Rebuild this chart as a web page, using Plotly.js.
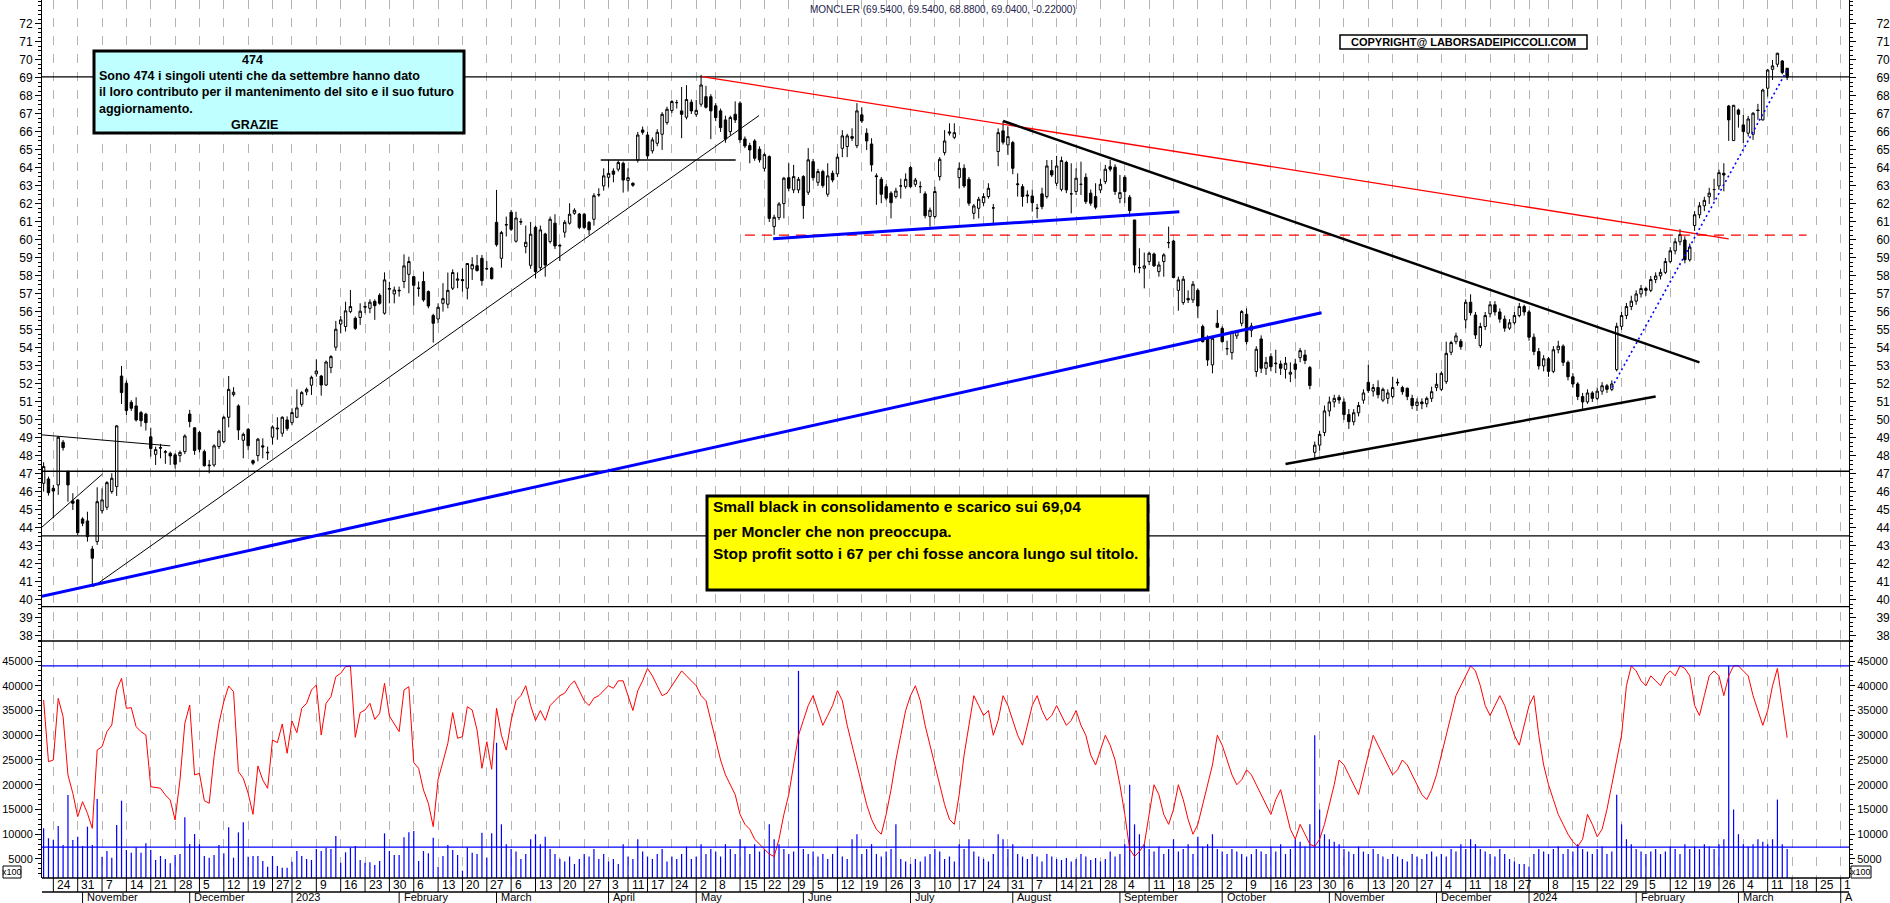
<!DOCTYPE html>
<html><head><meta charset="utf-8">
<script src="https://cdn.plot.ly/plotly-3.0.1.min.js"></script>
<style>html,body{margin:0;padding:0;background:#fff;overflow:hidden}#chart{width:1890px;height:903px}</style>
</head><body><div id="chart"></div>
<script>
// ---- DATA (bar index 0 = 20 Oct 2022, trading days, last bar = 15 Mar 2024) ----
const openV = [
46.48,46.72,46.20,46.39,48.76,47.13,45.50,45.56,44.50,44.39,
42.83,43.24,44.96,45.15,46.02,46.30,52.44,52.04,50.98,50.78,
50.41,50.32,49.06,48.09,48.43,48.20,48.15,48.06,48.02,48.24,
50.33,49.56,49.30,48.24,47.50,47.50,48.52,48.80,50.15,51.41,
50.78,48.87,49.48,47.74,48.02,48.56,48.17,49.04,49.50,49.26,
50.00,49.85,50.15,50.87,51.56,51.93,52.56,52.44,51.94,52.91,
54.04,55.33,55.19,56.02,55.65,55.69,56.26,56.20,56.59,56.93,
55.93,57.26,57.00,57.17,57.69,58.09,57.96,57.32,57.69,57.13,
55.80,55.61,56.48,56.43,57.32,57.76,57.80,57.32,58.39,58.57,
58.98,58.41,58.43,60.98,58.98,60.83,61.54,59.93,61.02,59.63,
58.59,60.70,58.46,60.33,59.91,60.93,59.70,60.43,60.93,61.48,
61.44,61.43,60.98,61.15,62.50,63.00,63.48,63.83,63.93,64.26,
63.30,63.15,64.44,66.11,65.83,64.95,65.37,65.87,66.52,67.19,
67.63,67.17,66.82,67.65,66.98,67.54,67.96,67.96,67.45,67.17,
66.67,66.02,66.98,67.60,65.61,65.24,65.50,65.04,63.98,64.63,
60.74,61.24,62.02,63.46,62.78,62.78,63.52,62.65,64.35,63.20,
63.80,62.54,63.70,63.67,65.09,65.19,65.74,65.24,66.95,65.93,
65.33,63.56,63.37,62.96,62.60,62.41,63.00,62.96,64.02,63.09,
62.96,62.56,61.30,61.30,63.52,64.85,65.93,65.70,63.46,63.98,
63.37,61.48,61.76,62.07,62.41,61.78,64.91,66.06,65.28,65.41,
63.07,62.96,62.50,62.44,61.76,62.56,62.41,63.85,63.15,62.81,
64.31,62.56,62.69,63.09,63.48,62.60,62.41,62.78,63.24,64.07,
64.04,62.31,63.48,62.37,61.11,58.46,58.43,58.80,59.22,58.24,
58.80,59.85,59.94,57.20,56.52,56.75,56.67,57.20,55.19,54.57,
53.06,55.37,55.09,53.96,53.74,54.67,55.37,55.87,54.98,52.69,
54.50,52.87,53.52,53.12,53.11,52.81,52.54,53.11,53.46,53.61,
52.91,48.20,48.60,49.30,50.50,51.00,51.26,51.00,50.30,49.90,
50.40,51.10,52.09,51.60,51.80,51.10,51.20,51.30,52.05,51.80,
51.76,51.20,50.80,51.00,50.90,51.20,51.80,51.70,52.13,53.76,
54.35,54.37,55.56,56.54,55.83,54.13,55.19,55.90,56.40,56.00,
55.60,55.10,55.40,55.80,56.30,56.00,54.60,53.80,53.00,53.40,
52.70,53.90,54.10,53.20,52.40,52.00,51.30,51.00,51.50,51.20,
51.60,51.90,51.70,52.80,55.20,55.80,56.30,56.60,57.00,57.30,
57.20,57.80,58.00,58.20,58.80,59.40,59.90,60.00,58.90,60.80,
61.40,61.90,62.40,62.80,63.00,63.70,67.44,65.52,67.22,66.39,
65.93,65.87,67.22,66.67,68.43,69.48,69.76,69.94,69.54];
const highV = [
47.65,46.85,46.39,49.11,48.89,47.20,45.93,45.60,44.60,44.90,
43.00,46.26,46.20,46.60,47.04,49.72,53.00,52.20,51.10,51.26,
50.50,50.40,49.57,48.52,48.67,48.33,48.24,48.15,48.30,49.20,
50.56,49.60,49.40,48.35,47.78,48.65,49.45,50.22,52.44,51.82,
50.87,49.30,49.55,47.80,49.00,48.98,48.52,49.70,50.15,50.20,
50.20,50.65,51.70,51.60,51.80,52.46,53.37,52.50,53.30,53.60,
55.50,55.78,56.57,57.22,55.75,56.48,56.57,56.70,56.70,57.04,
58.20,57.67,57.41,57.41,59.20,59.07,58.00,57.69,58.24,57.20,
55.90,56.48,57.60,58.19,58.37,58.20,58.43,58.70,59.04,59.17,
59.17,58.83,58.50,62.78,60.50,61.30,61.67,61.57,61.20,60.80,
61.00,60.80,60.80,60.40,61.30,61.43,59.80,61.10,62.04,61.76,
61.50,61.50,61.05,62.60,62.87,63.98,64.45,63.98,64.41,64.35,
63.98,63.20,66.00,66.30,66.00,65.70,66.15,67.10,67.40,67.78,
67.78,68.50,68.60,67.80,67.78,69.17,68.56,68.10,67.60,67.30,
66.90,66.90,67.70,67.70,65.75,65.40,65.60,65.20,64.85,64.70,
61.40,62.10,63.50,64.26,64.17,63.50,63.60,65.10,64.50,63.95,
63.90,64.26,63.85,64.80,66.10,65.90,66.20,67.60,67.37,66.20,
65.65,63.70,63.50,63.10,62.70,62.90,63.40,63.70,64.10,63.45,
63.25,62.70,61.80,62.96,64.60,66.10,66.48,66.48,64.30,64.20,
63.50,62.00,62.40,62.60,63.15,62.00,66.20,66.60,66.30,65.50,
63.70,63.10,62.75,62.80,62.00,62.90,64.44,64.44,64.67,64.63,
64.40,64.26,63.98,64.35,63.70,62.80,63.15,63.40,64.17,64.44,
64.20,63.61,63.60,62.50,61.11,59.54,59.30,59.35,59.30,58.80,
59.26,60.74,60.00,57.96,58.00,57.20,57.72,57.30,55.30,54.70,
54.60,56.11,55.20,54.40,54.96,55.00,56.10,56.20,55.40,54.10,
54.70,53.50,53.70,53.90,53.30,53.50,53.20,53.40,54.00,53.90,
53.00,48.80,49.40,50.80,51.30,51.40,51.40,51.20,50.60,50.60,
51.00,51.70,53.06,52.00,52.20,51.80,51.70,52.40,52.30,51.90,
51.80,51.40,51.20,51.20,51.30,51.85,52.60,52.70,54.35,54.40,
54.85,54.50,56.70,56.98,56.00,55.40,56.00,56.60,56.60,56.20,
55.80,55.60,56.00,56.50,56.40,56.10,54.80,54.00,53.60,53.50,
54.10,54.40,54.20,53.30,52.60,52.10,51.50,51.70,51.60,51.80,
52.10,52.00,52.20,55.40,56.00,56.50,56.90,57.20,57.50,57.40,
58.00,58.20,58.40,59.00,59.60,60.10,60.60,60.20,59.80,61.60,
62.10,62.40,62.90,63.40,63.90,64.26,67.50,67.50,67.30,66.94,
66.89,67.10,67.56,68.40,69.50,70.00,70.40,70.00,69.54];
const lowV = [
46.02,45.80,44.54,45.84,48.30,45.46,45.00,43.60,44.10,43.24,
40.74,43.06,44.80,45.00,45.90,45.78,50.89,50.28,50.50,49.91,
49.63,49.41,47.96,47.50,47.87,47.56,47.50,47.30,47.65,48.10,
49.59,48.06,48.20,47.41,47.04,47.40,48.39,48.70,49.59,51.30,
48.89,47.87,48.33,47.50,47.70,47.87,47.78,48.63,48.90,49.07,
49.40,49.70,50.10,50.74,51.37,51.39,52.40,51.35,51.89,52.60,
53.85,54.81,54.91,55.93,55.00,55.28,55.93,55.93,55.56,56.40,
55.85,56.48,56.48,56.85,57.32,57.04,56.35,56.85,56.57,56.20,
54.30,55.37,56.02,56.20,57.22,57.32,57.13,56.70,57.78,58.24,
57.46,58.33,57.80,59.63,58.46,60.19,60.50,59.85,60.83,59.26,
58.40,57.87,58.30,57.96,59.80,59.50,58.83,60.13,60.85,61.40,
60.60,60.60,60.28,60.80,62.40,62.74,62.93,63.20,63.80,62.63,
62.69,62.95,64.30,65.85,64.50,64.80,65.20,65.00,66.40,67.05,
67.30,65.65,66.70,67.00,66.85,67.40,67.30,65.60,66.60,66.00,
65.40,65.80,66.50,65.37,65.10,64.26,64.40,64.30,63.80,61.00,
60.28,61.10,61.20,62.70,62.60,62.60,61.17,62.50,63.30,63.00,
62.90,62.40,63.20,63.50,64.60,64.60,65.50,65.10,66.50,65.00,
63.80,61.95,62.04,62.20,61.20,62.30,62.30,62.85,62.90,62.95,
62.60,61.20,60.74,61.20,63.30,64.70,65.80,65.60,62.87,62.90,
61.90,61.15,61.20,61.90,62.30,60.83,64.10,65.30,64.72,63.65,
62.41,61.85,62.04,61.57,61.20,61.70,62.30,63.50,63.00,62.70,
62.60,61.48,62.50,62.50,62.00,61.90,61.70,62.60,63.10,63.80,
62.50,62.04,62.04,61.30,58.19,58.15,57.31,58.60,58.50,57.96,
57.96,59.54,57.90,56.07,56.40,56.50,56.50,55.65,54.30,53.00,
52.59,55.10,54.30,53.60,53.35,54.50,55.20,54.20,54.60,52.40,
52.60,52.50,52.70,52.60,52.50,52.30,52.10,52.30,53.20,53.10,
51.70,47.90,48.30,49.10,50.20,50.70,50.90,50.00,49.50,49.70,
50.20,50.90,51.50,51.30,51.20,51.00,50.90,51.20,51.90,51.40,
51.10,50.60,50.50,50.60,50.70,51.00,51.60,51.60,52.00,53.60,
54.20,53.90,55.09,55.80,54.50,54.00,55.00,55.70,55.80,55.40,
54.90,55.00,55.30,55.70,55.80,54.40,53.60,52.80,52.70,52.40,
52.60,53.70,53.00,52.20,51.80,51.10,50.60,50.90,51.00,51.10,
51.40,51.50,51.60,52.70,55.00,55.60,56.10,56.40,56.80,56.90,
57.10,57.60,57.80,58.10,58.70,59.20,59.70,58.70,58.80,60.50,
61.20,61.60,62.00,62.20,62.78,62.70,65.50,65.50,66.24,65.37,
65.74,65.56,66.67,66.63,67.96,68.89,69.60,69.20,68.88];
const closeV = [
47.41,45.96,46.05,49.04,48.46,46.39,45.37,43.74,44.26,43.52,
42.32,45.46,45.56,46.52,46.76,49.67,51.52,50.52,50.65,50.00,
49.96,49.85,48.41,48.35,48.46,48.24,48.00,47.54,48.20,49.11,
49.91,48.30,48.37,47.46,47.46,48.56,49.37,50.15,51.70,51.54,
49.44,49.20,48.57,47.60,48.93,48.50,48.20,49.61,49.54,50.15,
49.52,50.41,50.67,51.52,51.70,52.37,52.72,51.94,53.22,53.52,
55.04,55.56,56.06,56.30,55.09,56.04,56.30,56.54,56.35,56.48,
57.78,57.30,57.22,57.20,58.56,58.80,57.48,57.32,56.67,56.33,
55.37,56.26,56.74,57.20,58.19,57.83,57.74,58.69,58.63,58.30,
57.74,58.40,57.85,59.74,60.41,60.85,60.59,61.22,61.00,59.87,
60.32,58.24,60.56,58.61,61.15,59.67,59.67,60.98,61.43,61.65,
60.70,60.69,60.56,62.46,62.52,63.56,63.70,63.65,64.30,63.33,
63.46,63.04,65.83,65.98,64.67,65.56,65.98,66.98,67.26,67.69,
67.63,66.98,67.80,67.17,67.20,68.61,67.37,67.17,66.80,66.24,
65.60,66.80,66.67,65.56,65.22,65.00,64.54,64.45,64.74,61.20,
61.26,62.00,63.43,62.87,63.52,63.37,61.91,64.45,63.46,63.80,
63.02,63.56,63.33,64.60,65.78,65.78,65.65,67.17,66.61,65.50,
64.17,63.52,62.54,62.32,62.07,62.72,63.00,63.37,62.96,63.33,
62.96,61.35,61.65,62.69,64.48,65.50,66.00,65.96,63.98,63.00,
62.04,61.89,62.26,62.41,62.87,61.78,65.96,65.43,65.74,63.98,
63.11,62.41,62.45,62.07,61.76,61.85,64.11,63.61,64.11,64.41,
62.78,62.56,63.43,63.09,62.13,62.04,61.82,63.09,63.93,63.93,
62.69,62.63,62.69,61.63,58.61,58.46,58.56,59.26,58.56,58.61,
59.17,59.85,57.91,57.78,57.82,56.67,57.54,56.33,54.35,53.33,
54.54,55.15,54.35,53.96,54.90,54.91,56.02,54.35,55.22,53.93,
52.87,53.20,52.96,53.15,52.87,53.15,52.65,52.81,53.85,53.30,
51.91,48.60,49.20,50.50,51.00,51.20,51.11,50.30,49.90,50.40,
50.80,51.50,51.63,51.80,51.40,51.70,51.50,51.80,52.09,51.57,
51.30,50.80,51.00,50.90,51.20,51.57,51.98,52.59,53.70,54.30,
54.67,54.07,56.54,55.96,54.72,55.19,55.80,56.40,56.00,55.60,
55.10,55.40,55.80,56.30,56.00,54.60,53.80,53.00,53.40,52.70,
53.90,54.10,53.20,52.40,52.00,51.30,51.00,51.50,51.20,51.60,
51.90,51.70,52.00,55.20,55.80,56.30,56.60,57.00,57.30,57.20,
57.80,58.00,58.20,58.80,59.40,59.90,60.30,58.90,59.60,61.40,
61.90,62.20,62.60,62.80,63.74,63.61,66.67,67.48,66.98,66.02,
66.72,67.04,67.19,68.33,69.44,69.67,70.37,69.30,69.04];
const volumeV = [
11200,9180,8840,11670,7830,17930,8840,9500,7630,11530,
7830,17120,5470,6620,5270,11870,16780,6820,6280,7360,
6280,8170,6820,4800,5610,5000,4130,5810,6010,13420,
8030,10050,7970,5610,5270,5810,7830,6150,11400,5270,
10380,12400,5470,5610,5610,4600,3450,5610,3590,3250,
3250,4460,6620,5610,5000,4800,7020,6620,7290,7020,
9650,4260,6350,7290,7630,4800,4260,4330,3790,4600,
10180,6620,5810,5810,9380,10380,10660,4600,6620,6150,
9310,3450,5610,7830,6820,5810,2640,7360,6280,6010,
10310,5270,10180,28480,12000,8000,7000,6500,5000,6000,
9000,10000,8000,9500,7000,6000,5000,4500,5500,4000,
5000,6000,5500,7000,5000,6000,4500,5000,4000,8000,
5500,5000,9000,6500,5500,5000,6000,7000,4500,5500,
5000,6000,7500,5000,5500,8000,6000,7000,6500,5500,
8000,7000,6000,9000,7500,6000,8000,6500,7000,12000,
9000,8000,7000,6000,6500,43000,7000,6000,6500,5500,
6000,5000,6000,7500,5500,5000,9000,10000,6000,7000,
8000,6000,5500,6500,7000,12000,5000,4500,4000,5000,
4500,5500,6000,7000,6500,5000,5500,4500,8000,7000,
9000,6500,5500,5000,4500,6000,10000,9000,7000,8000,
6000,5500,5000,6000,5500,4500,6000,5500,5000,4800,
5200,4500,5000,6000,5500,4800,5200,4500,5000,6500,
5500,6000,8000,20000,12000,10000,8000,7000,6500,7500,
6000,7000,9000,6500,7000,8000,6000,9500,7500,8000,
10000,7000,6500,6000,7000,6500,6000,5500,6000,7000,
6500,6000,7500,6500,8000,6000,7000,9000,8500,7500,
12000,30000,15000,10000,9000,8500,8000,7000,6500,6000,
7500,6500,6000,7000,6000,5500,5000,6000,5500,5000,
4500,6000,5500,5000,6000,6500,5500,6000,5500,7000,
6500,8000,7000,9000,8000,7000,6500,6000,5500,7000,
6000,5000,4500,4000,4000,3500,6000,7000,6500,6000,
7000,7500,6000,7000,6500,8000,7000,6500,6000,7000,
7500,6000,6500,18000,12000,9000,8000,7000,6500,6000,
6500,7000,6000,6500,7500,7000,6000,8000,7000,7500,
7000,8000,7500,7000,8000,9000,44000,15000,10000,8000,
7500,8000,9000,8500,8000,9000,17000,8000,7000];
const oscV = [
37120,24660,25000,37460,33750,21970,18270,13550,16580,14220,
11200,27020,27690,30720,32070,39140,41500,35440,35570,31730,
30720,30050,19610,19480,19280,17930,16920,12880,20960,32410,
36110,21970,22310,16780,16250,25670,32410,36780,39950,38800,
22640,21300,18270,14020,23790,20960,19280,29040,28500,32270,
26350,32880,30520,35440,36450,39140,40150,30050,36450,37790,
41830,42510,43860,43990,29580,34560,35100,36450,33210,34430,
40490,33890,32410,30720,39140,39810,24460,23320,18940,16250,
11530,21090,24660,28370,34560,29380,29710,35770,35100,31060,
23320,28700,23120,35440,30000,27000,33000,37000,38000,40000,
36000,33000,35000,33000,36000,37000,38000,38500,40000,41000,
39000,37000,36000,37500,38000,39000,40000,39500,41000,41000,
38000,35000,39000,41000,43500,42000,40000,38000,38500,40000,
41500,43000,42000,41000,40000,38000,37000,33000,29000,25000,
22000,20000,18000,14000,12000,11000,9000,8000,7000,6000,
5500,9000,14000,18000,24000,30000,33000,36000,38000,35000,
32000,34000,36000,39000,37000,32000,28000,24000,20000,16000,
13000,11000,10000,14000,19000,25000,30000,35000,38000,40000,
37000,32000,28000,24000,20000,16000,13000,12000,18000,26000,
32000,38000,36000,34000,35000,30000,33000,38000,36000,33000,
30000,28000,32000,36000,38000,35000,33000,34000,36000,34000,
32000,33000,35000,32000,30000,26000,24000,27000,30000,28000,
25000,20000,14000,7000,5500,6500,8000,14000,20000,18000,
14000,12000,15000,20000,17000,13000,10000,12000,16000,20000,
24000,30000,28000,25000,22000,20000,21000,23000,22000,20000,
18000,16000,14000,17000,19000,15000,11000,9000,12000,10000,
8000,7500,9000,12000,16000,20000,25000,24000,22000,20000,
18000,22000,26000,30000,28000,26000,24000,22000,23000,25000,
24000,22000,20000,18000,17000,19000,22000,26000,30000,34000,
38000,40000,42000,44000,43000,40000,36000,34000,36000,38000,
36000,33000,30000,28000,32000,36000,38000,30000,24000,20000,
17000,14000,12000,10000,8500,7500,9000,14000,12000,9500,
11000,15000,20000,25000,30000,40000,44000,43000,41000,40000,
42000,41000,40000,42000,43000,42000,44000,43500,42000,36000,
34000,38000,42000,43000,42000,38000,42000,44000,44000,43000,
42000,38000,35000,32000,35000,40000,43500,36000,29500];

// axis ticks (bar index of first trading day of each week / month)
const weekTickIdx = [2,7,12,17,22,27,32,37,42,47,51,56,61,66,71,76,81,86,91,96,
101,106,111,116,120,124,129,134,138,143,148,153,158,163,168,173,178,183,188,193,
198,203,208,212,217,222,227,232,237,242,247,252,257,262,267,272,277,282,287,292,
297,302,305,309,314,319,324,329,334,339,344,349,354,359,364,369];
const weekTickLabels = ['24','31','7','14','21','28','5','12','19','27','2','9','16','23','30','6','13','20','27','6',
'13','20','27','3','11','17','24','2','8','15','22','29','5','12','19','26','3','10','17','24',
'31','7','14','21','28','4','11','18','25','2','9','16','23','30','6','13','20','27','4','11',
'18','27','','8','15','22','29','5','12','19','26','4','11','18','25','1'];
const monthIdx = [8,30,51,73,93,116,134,156,178,199,221,242,264,286,305,327,348,369];
const monthLabels = ['November','December','2023','February','March','April','May','June','July','August','September','October','November','December','2024','February','March','A'];
const priceTicks = [38,39,40,41,42,43,44,45,46,47,48,49,50,51,52,53,54,55,56,57,58,59,60,61,62,63,64,65,66,67,68,69,70,71,72];
const volTicks = [5000,10000,15000,20000,25000,30000,35000,40000,45000];
const volTickText = ['5000','10000','15000','20000','25000','30000','35000','40000','45000'];
const priceLevels = [69.06,47.15,43.56,39.63];
const volLevels = [44000,7400];
const trendLines = [
 {x0:-0.33,y0:44.05,x1:12.1,y1:47.0,color:'#000000',width:1,dash:'solid'},
 {x0:-0.33,y0:49.17,x1:26,y1:48.56,color:'#000000',width:1,dash:'solid'},
 {x0:10.2,y0:40.74,x1:146.9,y1:66.91,color:'#000000',width:1,dash:'solid'},
 {x0:114.4,y0:64.44,x1:142.1,y1:64.44,color:'#000000',width:1.3,dash:'solid'},
 {x0:135.2,y0:69.07,x1:346,y1:60.06,color:'#ff0000',width:1.3,dash:'solid'},
 {x0:144,y0:60.27,x1:362,y1:60.27,color:'#ff0000',width:1.3,dash:'10px,7px'},
 {x0:-0.33,y0:40.2,x1:262.4,y1:55.96,color:'#0000ff',width:3,dash:'solid'},
 {x0:149.8,y0:60.06,x1:233.2,y1:61.56,color:'#0000ff',width:3,dash:'solid'},
 {x0:197,y0:66.61,x1:340,y1:53.2,color:'#000000',width:2.5,dash:'solid'},
 {x0:255,y0:47.55,x1:331,y1:51.3,color:'#000000',width:2.5,dash:'solid'},
 {x0:322,y0:51.8,x1:358,y1:69.44,color:'#0000ff',width:1.6,dash:'2px,3px'}
];

// ---- LAYOUT HELPERS ----
const L = 42, R = 1849, B = 878, SPLIT = 641;
const PX = x => (x - L) / (R - L);
const PY = y => (B - y) / B;
const FONT = 'Liberation Sans, Arial, sans-serif';
const idx = closeV.map((_, i) => i);

const traces = [
 {type:'bar', x: idx, y: volumeV, xaxis:'x', yaxis:'y2', width:0.25,
  marker:{color:'#0000ff', line:{width:0}}, hoverinfo:'skip'},
 {type:'scatter', mode:'lines', x: idx, y: oscV, xaxis:'x', yaxis:'y2',
  line:{color:'#ff0000', width:1}, hoverinfo:'skip'},
 {type:'candlestick', x: idx, open: openV, high: highV, low: lowV, close: closeV,
  xaxis:'x', yaxis:'y', whiskerwidth:0, hoverinfo:'skip',
  increasing:{line:{color:'#000000', width:1}, fillcolor:'#ffffff'},
  decreasing:{line:{color:'#000000', width:1}, fillcolor:'#000000'}},
 {type:'scatter', mode:'markers', x:[idx[0]], y:[closeV[0]], xaxis:'x', yaxis:'y3', marker:{opacity:0}, hoverinfo:'skip'},
 {type:'scatter', mode:'markers', x:[idx[0]], y:[volumeV[0]], xaxis:'x', yaxis:'y4', marker:{opacity:0}, hoverinfo:'skip'}
];

const shapes = [];
priceLevels.forEach(v => shapes.push({type:'line', xref:'paper', yref:'y', x0:0, x1:1, y0:v, y1:v, line:{color:'#000', width:1.3}}));
volLevels.forEach(v => shapes.push({type:'line', xref:'paper', yref:'y2', x0:0, x1:1, y0:v, y1:v, line:{color:'#0000ff', width:1.3}}));
trendLines.forEach(t => shapes.push({type:'line', xref:'x', yref:'y', x0:t.x0, y0:t.y0, x1:t.x1, y1:t.y1, line:{color:t.color, width:t.width, dash:t.dash}}));
shapes.push({type:'line', xref:'paper', yref:'paper', x0:0, x1:1, y0:PY(SPLIT), y1:PY(SPLIT), line:{color:'#000', width:1.3}});
shapes.push({type:'line', xref:'paper', yref:'paper', x0:0, x1:1, y0:0, y1:0, line:{color:'#000', width:1.3}});
shapes.push({type:'line', xref:'paper', yref:'paper', x0:0, x1:1, y0:PY(892), y1:PY(892), line:{color:'#000', width:1.3}});
weekTickIdx.forEach(v => shapes.push({type:'line', xref:'x', yref:'paper', x0:v, x1:v, y0:0, y1:PY(892), line:{color:'#000', width:1}}));
monthIdx.forEach(v => shapes.push({type:'line', xref:'x', yref:'paper', x0:v, x1:v, y0:PY(892), y1:PY(904), line:{color:'#000', width:1}}));
shapes.push({type:'rect', xref:'paper', yref:'paper', x0:PX(94), x1:PX(464), y0:PY(51), y1:PY(133), fillcolor:'#c0ffff', line:{color:'#000', width:3}, layer:'above'});
shapes.push({type:'rect', xref:'paper', yref:'paper', x0:PX(707), x1:PX(1148), y0:PY(496), y1:PY(590), fillcolor:'#ffff00', line:{color:'#000', width:3}, layer:'above'});
shapes.push({type:'rect', xref:'paper', yref:'paper', x0:PX(1340), x1:PX(1587), y0:PY(35), y1:PY(49), fillcolor:'#ffffff', line:{color:'#000', width:1.5}, layer:'above'});
shapes.push({type:'rect', xref:'paper', yref:'paper', x0:PX(3), x1:PX(21), y0:PY(866), y1:PY(878), fillcolor:'#ffffff', line:{color:'#000', width:1}});
shapes.push({type:'rect', xref:'paper', yref:'paper', x0:PX(1851), x1:PX(1871), y0:PY(866), y1:PY(878), fillcolor:'#ffffff', line:{color:'#000', width:1}});

const ann = [];
weekTickIdx.forEach((v, k) => { if (weekTickLabels[k]) ann.push({xref:'x', yref:'paper', x:v + 0.3, y:PY(885), xanchor:'left', yanchor:'middle', text:weekTickLabels[k], showarrow:false, font:{family:FONT, size:12, color:'#000'}}); });
monthIdx.forEach((v, k) => ann.push({xref:'x', yref:'paper', x:v + 0.5, y:PY(896.5), xanchor:'left', yanchor:'middle', text:monthLabels[k], showarrow:false, font:{family:FONT, size:11, color:'#000'}}));
const T = (px, py, text, size, anchor, color, bold) => ann.push({xref:'paper', yref:'paper', x:PX(px), y:PY(py), xanchor:anchor, yanchor:'middle', text: bold ? '<b>' + text + '</b>' : text, showarrow:false, font:{family:FONT, size:size, color:color || '#000'}});
T(943, 9, 'MONCLER (69.5400, 69.5400, 68.8800, 69.0400, -0.22000)', 10, 'center', '#22224a', false);
T(1463, 42, 'COPYRIGHT@ LABORSADEIPICCOLI.COM', 11, 'center', '#000', true);
T(252, 60, '474', 12.5, 'center', '#000', true);
T(97, 76, 'Sono 474 i singoli utenti che da settembre hanno dato', 12.5, 'left', '#000', true);
T(97, 92, 'il loro contributo per il mantenimento del sito e il suo futuro', 12.5, 'left', '#000', true);
T(97, 109, 'aggiornamento.', 12.5, 'left', '#000', true);
T(254, 125, 'GRAZIE', 12.5, 'center', '#000', true);
T(711, 507, 'Small black in consolidamento e scarico sui 69,04', 15.5, 'left', '#000', true);
T(711, 531, 'per Moncler che non preoccupa.', 15.5, 'left', '#000', true);
T(711, 554, 'Stop profit sotto i 67 per chi fosse ancora lungo sul titolo.', 15.5, 'left', '#000', true);
T(12, 872, 'x100', 9, 'center', '#000', false);
T(1861, 872, 'x100', 9, 'center', '#000', false);

const yBase = {ticks:'outside', ticklen:6, tickcolor:'#000', showline:true, linecolor:'#000', linewidth:1,
  showgrid:false, zeroline:false, tickfont:{family:FONT, size:12, color:'#000'}, fixedrange:true};
const layout = {
  width:1890, height:903, margin:{l:42, r:41, t:0, b:25}, paper_bgcolor:'#fff', plot_bgcolor:'#fff',
  showlegend:false, font:{family:FONT}, boxgap:0.3, boxgroupgap:0.3,
  xaxis:{domain:[0,1], range:[-0.33,370.7], tickmode:'array', tickvals:weekTickIdx, showticklabels:false, ticks:'',
    showgrid:true, gridcolor:'#b4b4b4', griddash:'dash', gridwidth:1, zeroline:false, showline:false,
    anchor:'y2', rangeslider:{visible:false}, fixedrange:true},
  yaxis:Object.assign({}, yBase, {domain:[PY(SPLIT),1], range:[37.72,73.33], tickmode:'array', tickvals:priceTicks, anchor:'x',
    minor:{ticks:'outside', ticklen:3, tickcolor:'#000', tickmode:'linear', tick0:0, dtick:0.25, showgrid:false}}),
  yaxis3:Object.assign({}, yBase, {overlaying:'y', side:'right', range:[37.72,73.33], tickmode:'array', tickvals:priceTicks, anchor:'x', ticklabelstandoff:18,
    minor:{ticks:'outside', ticklen:3, tickcolor:'#000', tickmode:'linear', tick0:0, dtick:0.25, showgrid:false}}),
  yaxis2:Object.assign({}, yBase, {domain:[0,PY(SPLIT)], range:[1160,49040], tickmode:'array', tickvals:volTicks, ticktext:volTickText, anchor:'x',
    tickfont:{family:FONT, size:11, color:'#000'},
    minor:{ticks:'outside', ticklen:3, tickcolor:'#000', tickmode:'linear', tick0:0, dtick:1000, showgrid:false}}),
  yaxis4:Object.assign({}, yBase, {overlaying:'y2', side:'right', range:[1160,49040], tickmode:'array', tickvals:volTicks, ticktext:volTickText, anchor:'x',
    ticklen:5, ticklabelstandoff:0, tickfont:{family:FONT, size:11, color:'#000'},
    minor:{ticks:'outside', ticklen:3, tickcolor:'#000', tickmode:'linear', tick0:0, dtick:1000, showgrid:false}}),
  shapes: shapes, annotations: ann
};
Plotly.newPlot('chart', traces, layout, {displayModeBar:false, staticPlot:true});
</script></body></html>
